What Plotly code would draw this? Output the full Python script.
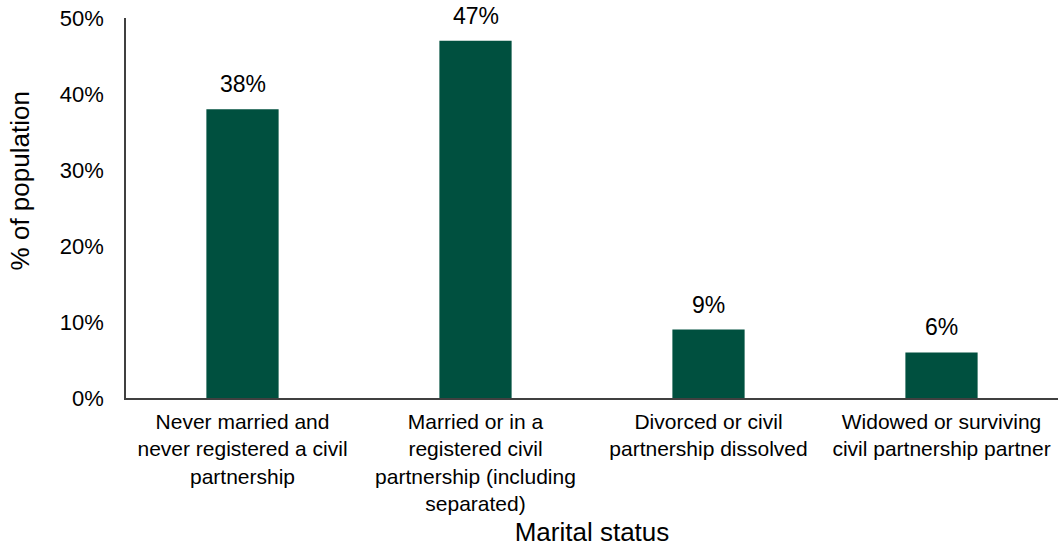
import plotly.graph_objects as go

# Marital status distribution (% of population)
categories = [
    "Never married and<br>never registered a civil<br>partnership",
    "Married or in a<br>registered civil<br>partnership (including<br>separated)",
    "Divorced or civil<br>partnership dissolved",
    "Widowed or surviving<br>civil partnership partner",
]
values = [38, 47, 9, 6]
y_ticks = [0, 10, 20, 30, 40, 50]
y_tick_labels = ["0%", "10%", "20%", "30%", "40%", "50%"]

FONT = "Liberation Sans, Arial, sans-serif"
BAR_COLOR = "#00503F"
AXIS_COLOR = "#404040"

fig = go.Figure(
    go.Bar(
        x=categories,
        y=values,
        marker=dict(color=BAR_COLOR, line=dict(width=0)),
        hoverinfo="skip",
    )
)

# value labels above each bar
for cat, val in zip(categories, values):
    fig.add_annotation(
        x=cat, y=val, text=f"{val}%", showarrow=False,
        yanchor="bottom", yshift=10,
        font=dict(family=FONT, size=23, color="#000000"),
    )

# y-axis title, placed slightly above the plot's vertical centre
fig.add_annotation(
    text="% of population", textangle=-90, showarrow=False,
    xref="paper", yref="paper", x=0, xshift=-106, y=0.57,
    xanchor="center", yanchor="middle",
    font=dict(family=FONT, size=26, color="#000000"),
)

fig.update_layout(
    width=1058, height=547,
    margin=dict(l=126, r=0, t=18, b=149),
    paper_bgcolor="white", plot_bgcolor="white",
    bargap=0.69,
    showlegend=False,
    font=dict(family=FONT, color="#000000"),
)

fig.update_xaxes(
    showline=True, linecolor=AXIS_COLOR, linewidth=1.5,
    ticks="", showgrid=False, zeroline=False,
    tickfont=dict(family=FONT, size=21, color="#000000"),
    ticklabelstandoff=4,
    title=dict(text="Marital status", standoff=12,
               font=dict(family=FONT, size=26, color="#000000")),
)

fig.update_yaxes(
    range=[0, 50],
    tickvals=y_ticks, ticktext=y_tick_labels,
    showline=True, linecolor=AXIS_COLOR, linewidth=1.5,
    ticks="", showgrid=False, zeroline=False,
    tickfont=dict(family=FONT, size=22, color="#000000"),
    ticklabelstandoff=16,
)

fig.write_html("out.html")
